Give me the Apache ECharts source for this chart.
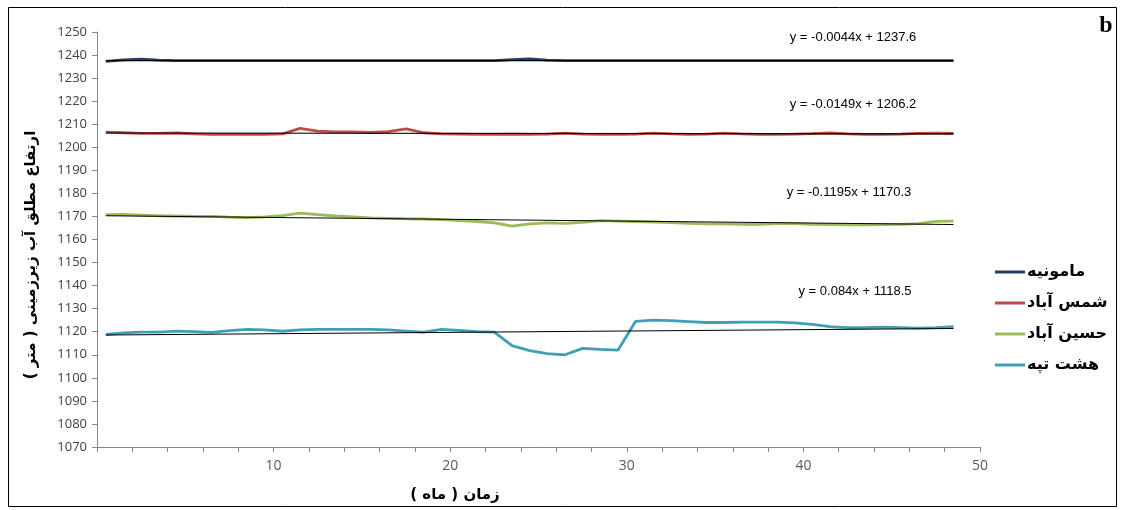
<!DOCTYPE html>
<html><head><meta charset="utf-8">
<script src="https://cdn.jsdelivr.net/npm/echarts@6/dist/echarts.min.js"></script>
<style>html,body{margin:0;padding:0;background:#fff}#c{width:1121px;height:510px}</style>
</head><body><div id="c"></div>
<script>
const months = [0.5,1.5,2.5,3.5,4.5,5.5,6.5,7.5,8.5,9.5,10.5,11.5,12.5,13.5,14.5,15.5,16.5,17.5,18.5,19.5,20.5,21.5,22.5,23.5,24.5,25.5,26.5,27.5,28.5,29.5,30.5,31.5,32.5,33.5,34.5,35.5,36.5,37.5,38.5,39.5,40.5,41.5,42.5,43.5,44.5,45.5,46.5,47.5,48.5];
const seriesNames = ['مامونیه','شمس آباد','حسین آباد','هشت تپه'];
const mamounieh = [1237.3,1237.9,1238.2,1237.8,1237.6,1237.6,1237.6,1237.6,1237.6,1237.6,1237.6,1237.6,1237.6,1237.6,1237.6,1237.6,1237.6,1237.6,1237.6,1237.6,1237.6,1237.6,1237.6,1238.0,1238.3,1237.8,1237.6,1237.6,1237.6,1237.6,1237.6,1237.6,1237.6,1237.6,1237.6,1237.6,1237.6,1237.6,1237.6,1237.6,1237.6,1237.6,1237.6,1237.6,1237.6,1237.6,1237.6,1237.6,1237.6];
const shamsAbad = [1206.6,1206.3,1206.0,1206.0,1206.2,1205.8,1205.6,1205.6,1205.6,1205.6,1205.8,1208.2,1207.0,1206.7,1206.7,1206.4,1206.8,1208.0,1206.3,1205.8,1205.7,1205.6,1205.6,1205.7,1205.6,1205.7,1206.1,1205.7,1205.6,1205.6,1205.7,1206.1,1205.8,1205.6,1205.7,1206.1,1205.8,1205.6,1205.6,1205.7,1205.9,1206.2,1205.8,1205.6,1205.6,1205.7,1206.0,1206.1,1206.0];
const hosseinAbad = [1170.8,1170.9,1170.6,1170.3,1170.2,1170.0,1170.0,1169.7,1169.5,1169.8,1170.4,1171.4,1170.8,1170.2,1169.8,1169.4,1169.2,1169.0,1168.9,1168.6,1168.2,1167.8,1167.2,1165.8,1166.8,1167.2,1167.0,1167.4,1168.2,1168.0,1167.8,1167.6,1167.3,1167.0,1166.8,1166.8,1166.6,1166.6,1166.9,1166.9,1166.6,1166.5,1166.4,1166.4,1166.5,1166.6,1166.9,1167.9,1168.0];
const hashtTappeh = [1118.8,1119.5,1119.8,1119.8,1120.3,1120.0,1119.7,1120.5,1121.0,1120.8,1120.2,1120.8,1121.0,1121.0,1121.0,1121.0,1120.8,1120.3,1119.8,1121.0,1120.6,1120.0,1119.8,1114.0,1111.8,1110.5,1110.0,1112.8,1112.3,1112.0,1124.5,1125.0,1124.8,1124.4,1124.0,1124.0,1124.2,1124.2,1124.2,1123.8,1123.2,1122.2,1121.8,1121.8,1122.0,1121.8,1121.6,1121.8,1122.2];
const trendX = [0.5, 48.5];
const trendMamounieh = [1237.6, 1237.6];
const trendShams = [1206.2, 1205.8];
const trendHossein = [1170.3, 1166.5];
const trendHasht = [1118.6, 1121.4];
const equations = ['y = -0.0044x + 1237.6','y = -0.0149x + 1206.2','y = -0.1195x + 1170.3','y = 0.084x + 1118.5'];
const colors = ['#243F61','#BE4B48','#9BBB59','#3F9FB6'];

const pair = (xs, ys) => xs.map((x,i)=>[x, ys[i]]);
const dataSets = [mamounieh, shamsAbad, hosseinAbad, hashtTappeh];
const trends = [trendMamounieh, trendShams, trendHossein, trendHasht];

const series = [];
dataSets.forEach((d,i)=>{
  series.push({name: seriesNames[i], type:'line', data: pair(months,d), showSymbol:false, symbol:'none',
    lineStyle:{color:colors[i], width:2.8}, itemStyle:{color:colors[i]}, z:2, animation:false});
});
trends.forEach((t,i)=>{
  series.push({name:'trend'+i, type:'line', data: pair(trendX,t), showSymbol:false, symbol:'none',
    lineStyle:{color:'#000', width:1.1}, z:3, animation:false, silent:true});
});

const eqPos = [[853,37],[853,104],[849,192],[855,291]];
const graphics = [
  {type:'rect', shape:{x:8.5,y:7.5,width:1108,height:499}, style:{fill:'none', stroke:'#000', lineWidth:1}},
  {type:'text', x:1106, y:26, style:{text:'b', font:'bold 24px "Liberation Serif", serif', fill:'#000', textAlign:'center', textVerticalAlign:'middle'}},
  {type:'text', x:31, y:255, rotation:Math.PI/2, style:{text:'ارتفاع مطلق آب زیرزمینی ( متر )', font:'bold 15px "DejaVu Sans", sans-serif', fill:'#000', textAlign:'center', textVerticalAlign:'middle'}},
  {type:'text', x:455, y:495, style:{text:'زمان ( ماه )', font:'bold 15px "DejaVu Sans", sans-serif', fill:'#000', textAlign:'center', textVerticalAlign:'middle'}}
];
equations.forEach((e,i)=>{
  graphics.push({type:'text', x:eqPos[i][0], y:eqPos[i][1], style:{text:e, font:'13px "Liberation Sans", sans-serif', fill:'#000', textAlign:'center', textVerticalAlign:'middle'}});
});

const chart = echarts.init(document.getElementById('c'), null, {renderer:'canvas'});
chart.setOption({
  animation:false,
  backgroundColor:'#fff',
  grid:{left:97, top:32, width:883, height:415, containLabel:false},
  xAxis:{type:'value', min:0, max:50, interval:2,
    axisLine:{show:true, lineStyle:{color:'#868686', width:1}},
    axisTick:{show:true, length:5, lineStyle:{color:'#868686'}},
    splitLine:{show:false},
    axisLabel:{color:'#595959', fontSize:14, fontFamily:'"Open Sans", sans-serif', margin:12,
      formatter:v=> (v>0 && v%10===0) ? String(v) : ''}},
  yAxis:{type:'value', min:1070, max:1250, interval:10,
    axisLine:{show:true, lineStyle:{color:'#868686', width:1}},
    axisTick:{show:true, length:5, lineStyle:{color:'#868686'}},
    splitLine:{show:false},
    axisLabel:{color:'#404040', fontSize:13, fontFamily:'"Open Sans", sans-serif', margin:10,
      formatter:v=>String(v)}},
  legend:{data:seriesNames, orient:'vertical', left:990, top:259, itemWidth:30, itemHeight:3, itemGap:15, icon:'rect',
    textStyle:{fontSize:16, fontWeight:'bold', color:'#000', fontFamily:'"DejaVu Sans", sans-serif', padding:[0,0,0,-3]}},
  series: series,
  graphic: graphics
});
</script></body></html>
